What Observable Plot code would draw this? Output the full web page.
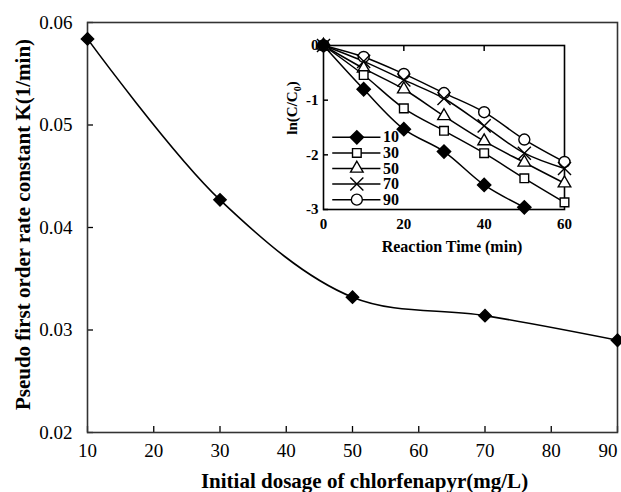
<!DOCTYPE html>
<html>
<head>
<meta charset="utf-8">
<script src="https://cdn.jsdelivr.net/npm/d3@7"></script>
<script src="https://cdn.jsdelivr.net/npm/@observablehq/plot@0.6"></script>
<style>
  html, body { margin: 0; padding: 0; background: white; }
  #wrap { position: relative; width: 621px; height: 492px; }
  #wrap svg { position: absolute; }
</style>
</head>
<body>
<div id="wrap"></div>
<script>
// ---- main chart data ----
const dosage = [10, 30, 50, 70, 90];
const rateK = [0.0584, 0.0427, 0.0332, 0.0314, 0.0290];
const mainXTicks = [10, 20, 30, 40, 50, 60, 70, 80, 90];
const mainYTicks = [0.02, 0.03, 0.04, 0.05, 0.06];

// ---- inset data ----
const time = [0, 10, 20, 30, 40, 50, 60];
const ln10 = [0, -0.80, -1.53, -1.94, -2.55, -2.96];
const ln30 = [0, -0.54, -1.15, -1.56, -1.97, -2.43, -2.87];
const ln50 = [0, -0.42, -0.80, -1.29, -1.75, -2.14, -2.52];
const ln70 = [0, -0.29, -0.63, -0.97, -1.47, -1.97, -2.25];
const ln90 = [0, -0.21, -0.52, -0.87, -1.22, -1.72, -2.13];
const seriesNames = ["10", "30", "50", "70", "90"];
const insetXTicks = [0, 20, 40, 60];
const insetYTicks = [0, -1, -2, -3];

const mainData = dosage.map((d, i) => ({x: d, k: rateK[i]}));
const lastTick = mainXTicks[mainXTicks.length - 1];

const serif = "'Liberation Serif', 'Times New Roman', serif";

const main = Plot.plot({
  width: 621, height: 492,
  marginLeft: 87, marginRight: 4, marginTop: 22, marginBottom: 60,
  style: {fontFamily: serif, fontSize: "19px", background: "white", color: "black", overflow: "visible"},
  x: {domain: [10, 90]},
  y: {domain: [0.02, 0.06]},
  marks: [
    Plot.axisX({ticks: mainXTicks, tickSize: -6, text: null, label: null, strokeWidth: 1.3}),
    Plot.axisX({ticks: mainXTicks.slice(0, -1), tickSize: 0, tickPadding: 11, tickFormat: d => String(d), label: null}),
    Plot.text([lastTick], {x: d => d, frameAnchor: "bottom", textAnchor: "end", dx: 0, dy: 11, lineAnchor: "top", text: d => String(d)}),
    Plot.axisY({ticks: mainYTicks, tickSize: -6, tickPadding: 21, tickFormat: d3.format(".2f"), label: null, strokeWidth: 1.3}),
    Plot.frame({stroke: "#333", strokeWidth: 1.6}),
    Plot.line(mainData, {x: "x", y: "k", curve: "catmull-rom", stroke: "black", strokeWidth: 1.6}),
    Plot.dot(mainData, {x: "x", y: "k", symbol: "diamond2", r: 5.5, fill: "black", stroke: "black"}),
    Plot.text(["Initial dosage of chlorfenapyr(mg/L)"], {frameAnchor: "bottom", dx: 12, dy: 49, text: d => d, fontWeight: "bold", fontSize: 21, lineAnchor: "middle"}),
    Plot.text(["Pseudo first order rate constant K(1/min)"], {frameAnchor: "left", textAnchor: "middle", dx: -64, dy: -3, rotate: -90, text: d => d, fontWeight: "bold", fontSize: 21})
  ]
});
main.style.left = "0px";
main.style.top = "0px";

// ---- inset ----
const seriesArrays = [ln10, ln30, ln50, ln70, ln90];
const symbols = ["diamond2", "square2", "triangle2", "times", "circle"];
const fills = ["black", "white", "white", "none", "white"];
const radii = [6, 5.5, 6, 6, 5.5];
const insetData = [];
seriesArrays.forEach((arr, s) => arr.forEach((v, i) => insetData.push({series: seriesNames[s], t: time[i], v})));

// legend layout (data units of inset)
const legX1 = 2.3, legX2 = 14.3, legXM = 8.3, legTX = 14.8, legY0 = -1.68, legDy = -0.285;

const insetMarks = [
  Plot.axisX({ticks: insetXTicks, tickSize: 0, tickPadding: 9, tickFormat: d => String(d), label: null, fontWeight: "bold"}),
  Plot.axisX({ticks: [20, 40], anchor: "top", tickSize: -5, text: null, label: null, strokeWidth: 1.5}),
  Plot.axisY({ticks: insetYTicks, tickSize: -5, tickPadding: 10, tickFormat: d => String(d), label: null, fontWeight: "bold", strokeWidth: 1.5}),
  Plot.frame({stroke: "black", strokeWidth: 1.6})
];
seriesNames.forEach((name, s) => {
  insetMarks.push(Plot.line(insetData.filter(d => d.series === name), {x: "t", y: "v", curve: "catmull-rom", stroke: "black", strokeWidth: 1.5}));
});
// draw markers: hollow first, filled diamond last
[4, 3, 2, 1, 0].forEach(s => {
  const name = seriesNames[s];
  insetMarks.push(Plot.dot(insetData.filter(d => d.series === name), {x: "t", y: "v", symbol: symbols[s], r: radii[s], fill: fills[s], stroke: "black", strokeWidth: 1.4}));
});
// legend
seriesNames.forEach((name, s) => {
  const yy = legY0 + s * legDy;
  insetMarks.push(Plot.ruleY([yy], {x1: legX1, x2: legX2, stroke: "black", strokeWidth: 1.5}));
  insetMarks.push(Plot.dot([{t: legXM, v: yy}], {x: "t", y: "v", symbol: symbols[s], r: radii[s], fill: fills[s], stroke: "black", strokeWidth: 1.4}));
  insetMarks.push(Plot.text([name], {x: legTX, y: yy, text: d => d, textAnchor: "start", fontWeight: "bold", fontSize: 16}));
});
insetMarks.push(Plot.text(["Reaction Time (min)"], {frameAnchor: "bottom", dx: 8, dy: 37, text: d => d, fontWeight: "bold", fontSize: 16, lineAnchor: "middle"}));

const inset = Plot.plot({
  width: 291, height: 224,
  marginLeft: 40, marginRight: 10, marginTop: 10, marginBottom: 50,
  style: {fontFamily: serif, fontSize: "15px", background: "transparent", color: "black", overflow: "visible"},
  x: {domain: [0, 60]},
  y: {domain: [-3, 0]},
  marks: insetMarks
});
inset.style.left = "283px";
inset.style.top = "35px";

// y label with subscript
const lab = d3.select(inset).append("text")
  .attr("transform", "translate(14,73) rotate(-90)")
  .attr("text-anchor", "middle")
  .attr("font-family", serif)
  .attr("font-weight", "bold")
  .attr("font-size", 15)
  .attr("fill", "black");
lab.append("tspan").text("ln(C/C");
lab.append("tspan").attr("font-size", 10).attr("dy", 4).text("0");
lab.append("tspan").attr("dy", -4).text(")");

const wrap = document.getElementById("wrap");
wrap.appendChild(main);
wrap.appendChild(inset);
</script>
</body>
</html>
